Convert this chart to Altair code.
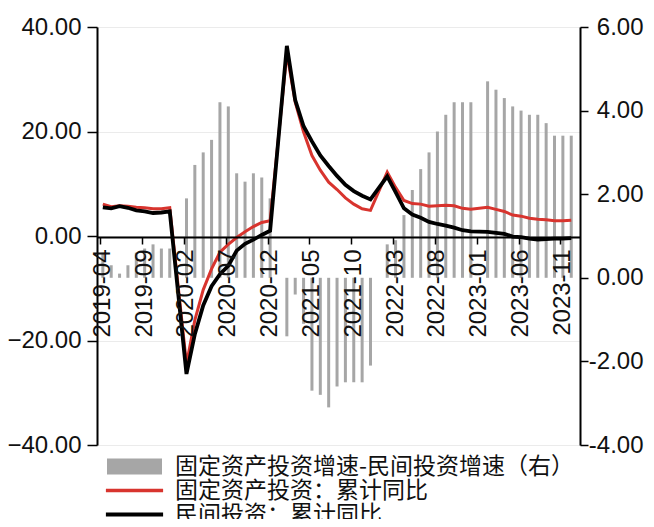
import altair as alt
import pandas as pd

# monthly categories 2019-04 .. 2023-12 (January values are not published)
months = [str(p) for p in pd.period_range("2019-04", "2023-12", freq="M")]

# 固定资产投资：累计同比 (%)
fai = [6.1, 5.6, 5.8, 5.7, 5.5, 5.4, 5.2, 5.2, 5.4,
       None, -24.5, -16.1, -10.3, -6.3, -3.1, -1.6, -0.3, 0.8, 1.8, 2.6, 2.9,
       None, 35.0, 25.6, 19.9, 15.4, 12.6, 10.3, 8.9, 7.3, 6.1, 5.2, 4.9,
       None, 12.2, 9.3, 6.8, 6.2, 6.1, 5.7, 5.8, 5.9, 5.8, 5.3, 5.1,
       None, 5.5, 5.1, 4.7, 4.0, 3.8, 3.4, 3.2, 3.1, 2.9, 2.9, 3.0]

# 民间投资：累计同比 (%)
private = [5.5, 5.3, 5.7, 5.4, 4.9, 4.7, 4.4, 4.5, 4.7,
           None, -26.4, -18.8, -13.3, -9.6, -7.3, -5.7, -2.8, -1.5, -0.7, 0.2, 1.0,
           None, 36.4, 26.0, 21.0, 18.1, 15.4, 13.4, 11.5, 9.8, 8.6, 7.7, 7.0,
           None, 11.4, 8.4, 5.3, 4.1, 3.5, 2.7, 2.3, 2.0, 1.6, 1.1, 0.9,
           None, 0.8, 0.6, 0.4, -0.1, -0.2, -0.5, -0.7, -0.6, -0.5, -0.5, -0.4]

# 固定资产投资增速-民间投资增速（右）
gap = [0.6, 0.3, 0.1, 0.3, 0.6, 0.7, 0.8, 0.7, 0.7,
       None, 1.9, 2.7, 3.0, 3.3, 4.2, 4.1, 2.5, 2.3, 2.5, 2.4, 1.9,
       None, -1.4, -0.4, -1.1, -2.7, -2.8, -3.1, -2.6, -2.5, -2.5, -2.5, -2.1,
       None, 0.8, 0.9, 1.5, 2.1, 2.6, 3.0, 3.5, 3.9, 4.2, 4.2, 4.2,
       None, 4.7, 4.5, 4.3, 4.1, 4.0, 3.9, 3.9, 3.7, 3.4, 3.4, 3.4]

tick_labels = ["2019-04", "2019-09", "2020-02", "2020-07", "2020-12", "2021-05",
               "2021-10", "2022-03", "2022-08", "2023-01", "2023-06", "2023-11"]
left_ticks = [-40, -20, 0, 20, 40]
right_ticks = [-4, -2, 0, 2, 4, 6]

series_names = ["固定资产投资增速-民间投资增速（右）", "固定资产投资：累计同比", "民间投资：累计同比"]
series_colors = ["#a6a6a6", "#d8342e", "#000000"]
series_shapes = ["M-2.5,-0.72H2.5V0.72H-2.5Z",
                 "M-2.6,-0.17H2.6V0.17H-2.6Z",
                 "M-2.6,-0.19H2.6V0.19H-2.6Z"]

df = pd.DataFrame({"idx": list(range(len(months))), "month": months,
                   "fai": fai, "private": private, "gap": gap})

tick_pos = [months.index(t) - 0.3 for t in tick_labels]
label_array = "[" + ",".join("'" + t + "'" for t in tick_labels) + "]"

xscale = alt.Scale(domain=[-0.1, 56.45], nice=False, zero=False)
num_font = "Liberation Sans"
FS = 24

x_axis = alt.Axis(values=tick_pos, labelExpr=label_array + "[round(datum.value/5)]",
                  orient="bottom", offset=-208, labelAngle=-90, labelFontSize=FS,
                  labelFont=num_font, labelColor="#111111", labelPadding=5, labelOffset=2,
                  tickSize=7, tickWidth=1.5, tickColor="#000000", domainColor="#000000",
                  domainWidth=2, grid=False, title=None, zindex=1, labelOverlap=False)

left_axis = alt.Axis(values=left_ticks, format=".2f", orient="left", labelFontSize=FS,
                     labelFont=num_font, labelColor="#111111", labelPadding=6,
                     tickSize=10, tickWidth=1.5, tickColor="#000000", domainColor="#000000",
                     domainWidth=2, grid=True, gridColor="#ebebeb", gridWidth=1, title=None)

right_axis = alt.Axis(values=right_ticks, orient="right", labelFontSize=FS,
                      labelExpr="(datum.value < 0 ? '-' : '') + format(abs(datum.value), '.2f')",
                      labelFont=num_font, labelColor="#111111", labelPadding=55,
                      labelAlign="right",
                      tickSize=8, tickWidth=1.5, tickColor="#000000", domainColor="#000000",
                      domainWidth=2, grid=False, title=None)

x_enc = alt.X("idx:Q", scale=xscale, axis=x_axis)
yl_scale = alt.Scale(domain=[-40, 40], nice=False)

base = alt.Chart(df)

bars = base.mark_bar(color=series_colors[0], size=3).encode(
    x=x_enc,
    y=alt.Y("gap:Q", scale=alt.Scale(domain=[-4, 6], nice=False), axis=right_axis),
).transform_filter("isValid(datum.gap)")

red = base.mark_line(color=series_colors[1], strokeWidth=3).encode(
    x=x_enc,
    y=alt.Y("fai:Q", scale=yl_scale, axis=left_axis),
).transform_filter("isValid(datum.fai)")

black = base.mark_line(color=series_colors[2], strokeWidth=3.8).encode(
    x=x_enc,
    y=alt.Y("private:Q", scale=yl_scale, axis=left_axis),
).transform_filter("isValid(datum.private)")

legend_kw = dict(orient="none", legendX=26, legendY=428, direction="vertical", title=None,
                 labelFont="Noto Sans CJK SC", labelFontSize=23, labelColor="#111111",
                 labelLimit=1000, symbolSize=484, symbolStrokeWidth=0, symbolOpacity=1,
                 labelOffset=29, rowPadding=0, padding=0)

legend_pts = alt.Chart(pd.DataFrame({"series": series_names})).mark_point(
    filled=True, opacity=1).encode(
    color=alt.Color("series:N", scale=alt.Scale(domain=series_names, range=series_colors),
                    legend=alt.Legend(**legend_kw)),
    shape=alt.Shape("series:N", scale=alt.Scale(domain=series_names, range=series_shapes),
                    legend=alt.Legend(**legend_kw)),
).transform_filter("false")

lines = alt.layer(red, black)

chart = alt.layer(bars, lines, legend_pts).resolve_scale(y="independent").properties(
    width=483, height=418,
    autosize=alt.AutoSizeParams(type="none"),
    padding={"left": 89, "top": 19, "right": 66, "bottom": 74},
).configure_view(stroke=None).configure(font=num_font, background="#ffffff")

chart.save("out.html", embed_options={"renderer": "svg", "actions": False})
